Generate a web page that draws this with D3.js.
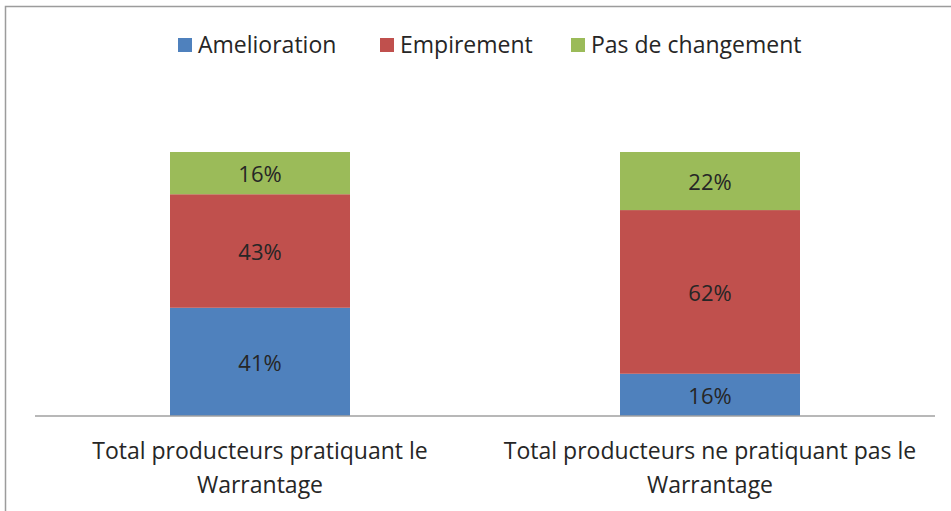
<!DOCTYPE html>
<html><head><meta charset="utf-8">
<script src="https://cdn.jsdelivr.net/npm/d3@7"></script>
<style>body{margin:0;background:#fff}svg{display:block}</style>
</head><body>
<script>
const categories = [["Total producteurs pratiquant le","Warrantage"],["Total producteurs ne pratiquant pas le","Warrantage"]];
const seriesNames = ["Amelioration","Empirement","Pas de changement"];
const amelioration = [41, 16];
const empirement = [43, 62];
const pasDeChangement = [16, 22];
const colors = ["#4F81BD","#C0504D","#9BBB59"];

const W = 951, H = 511;
const font = "'Open Sans', sans-serif";
const fs = 23;
const svg = d3.select("body").append("svg").attr("width", W).attr("height", H);

svg.append("rect").attr("x",5.5).attr("y",6.5).attr("width",W+10).attr("height",H+10)
  .attr("fill","none").attr("stroke","#9c9c9c").attr("stroke-width",1.5);

const x = d3.scaleBand().domain(d3.range(categories.length)).range([35, 935]).padding(0);
const y = d3.scaleLinear().domain([0, 100]).range([416, 152]);
const barW = x.bandwidth() * 0.4;

const rows = categories.map((c, i) => ({i, a: amelioration[i], e: empirement[i], p: pasDeChangement[i]}));
const stack = d3.stack().keys(["a","e","p"])(rows);

stack.forEach((layer, si) => {
  const g = svg.append("g");
  g.selectAll("rect").data(layer).join("rect")
    .attr("x", d => x(d.data.i) + x.bandwidth()/2 - barW/2)
    .attr("width", barW)
    .attr("y", d => y(d[1]))
    .attr("height", d => y(d[0]) - y(d[1]))
    .attr("fill", colors[si]);
  g.selectAll("text").data(layer).join("text")
    .attr("x", d => x(d.data.i) + x.bandwidth()/2)
    .attr("y", d => (y(d[0]) + y(d[1]))/2 + 1)
    .attr("dy", "0.36em")
    .attr("text-anchor", "middle")
    .attr("font-family", font).attr("font-size", 22).attr("fill", "#262626")
    .text(d => (d[1]-d[0]) + "%");
});

svg.append("line").attr("x1",35).attr("x2",935).attr("y1",416).attr("y2",416)
  .attr("stroke","#a0a0a0").attr("stroke-width",1.5);

categories.forEach((lines, i) => {
  const t = svg.append("text").attr("text-anchor","middle")
    .attr("font-family", font).attr("font-size", fs).attr("fill","#262626");
  lines.forEach((ln, k) => {
    t.append("tspan").attr("x", x(i) + x.bandwidth()/2).attr("y", 459 + k*34).text(ln);
  });
});

const legX = [178, 380, 571];
seriesNames.forEach((n, i) => {
  svg.append("rect").attr("x", legX[i]).attr("y", 38).attr("width", 14).attr("height", 14).attr("fill", colors[i]);
  svg.append("text").attr("x", legX[i] + 20).attr("y", 45).attr("dy","0.36em")
    .attr("font-family", font).attr("font-size", fs).attr("fill","#262626").text(n);
});
</script>
</body></html>
